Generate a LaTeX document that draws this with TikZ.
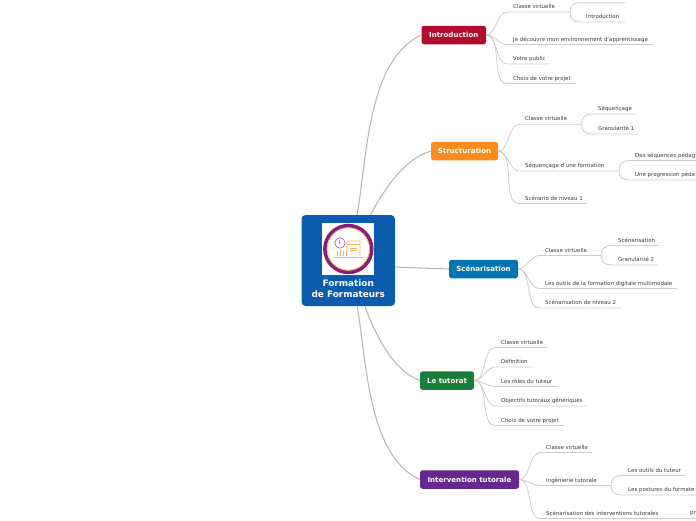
\documentclass[tikz,border=0pt]{standalone}
\usepackage{fontspec}
\setmainfont{DejaVu Sans}
\usetikzlibrary{positioning,calc}
\definecolor{rootblue}{RGB}{11,92,173}
\definecolor{introred}{RGB}{176,12,44}
\definecolor{structorange}{RGB}{249,140,30}
\definecolor{scenblue}{RGB}{0,117,180}
\definecolor{tutgreen}{RGB}{24,128,56}
\definecolor{intpurple}{RGB}{102,40,143}
\definecolor{ringpurple}{RGB}{135,30,120}
\definecolor{iconorange}{RGB}{245,175,100}
\begin{document}
\begin{tikzpicture}[x=1pt,y=-1pt,
  rootbox/.style={draw=none, fill=rootblue, rounded corners=4pt,
                  minimum width=93.5pt, minimum height=91pt, inner sep=0pt},
  rootlbl/.style={text=white, align=center, inner sep=0pt,
                  font=\fontsize{8.9}{11}\selectfont\bfseries},
  topic/.style={rounded corners=2.5pt, text=white, inner sep=0pt,
                minimum height=18.5pt,
                font=\fontsize{7.05}{8}\selectfont\bfseries},
  leaf/.style={anchor=west, inner sep=0pt, text=black!78,
               font=\fontsize{5.45}{6}\selectfont},
  mainarc/.style={draw=black!27, line width=1.1pt},
  leafarc/.style={draw=black!20, line width=0.8pt},
]
  \useasboundingbox (0,0) rectangle (696,520);
  \node[rootbox] (root) at (348.25,260.5) {};
  \node[topic, fill=introred, minimum width=64.5pt] (intro) at (453.75,35) {Introduction};
  \node[topic, fill=structorange, minimum width=67pt] (struct) at (464.5,151.2) {Structuration};
  \node[topic, fill=scenblue, minimum width=69pt] (scen) at (483.5,269) {Scénarisation};
  \node[topic, fill=tutgreen, minimum width=54pt] (tut) at (447,380.5) {Le tutorat};
  \node[topic, fill=intpurple, minimum width=99pt] (interv) at (469.5,479.5) {Intervention tutorale};
  % root picture
  \fill[white] (322,223) rectangle (374,275);
  \draw[ringpurple, line width=3.6pt] (348.3,249) circle (23.4pt);
  \draw[iconorange, line width=0.8pt] (348.3,249) circle (21.2pt);
  \draw[iconorange, line width=0.7pt, rounded corners=0.5pt]
    (347,256) -- (347,241) -- (360,241) -- (360,256);
  \draw[iconorange, line width=1pt, line cap=round] (334.5,257) -- (363,257);
  \draw[iconorange, line width=0.7pt] (347,244) -- (360,244);
  \draw[iconorange, line width=0.5pt] (350,248) -- (357,248) (350,250.5) -- (357,250.5);
  \draw[iconorange, line width=0.9pt] (337.5,256) -- (337.5,252) (340.5,256) -- (340.5,249.5)
    (343.5,256) -- (343.5,251) (346,256) -- (346,252);
  \draw[ringpurple!80, line width=0.6pt, fill=white] (340,243) circle (5.2pt);
  \node[font=\fontsize{4.5}{5}\selectfont\bfseries, text=ringpurple, inner sep=0pt] (info) at (340,243) {i};
  \node[rootlbl] (rootname) at (348.25,288.5) {Formation\\de Formateurs};
  % main branches
  \foreach \n/\a/\o/\i/\l in {intro/79/80/205/0.8, struct/64/62/195/0.8, scen/-8/-2/178/1,
                              tut/-70/-70/160/0.8, interv/-79/-80/155/0.8}{
    \draw[mainarc] (root.\a) to[out=\o, in=\i, looseness=\l] (\n.west);
  }
  % first level
  \foreach \p/\n/\x/\y/\u/\e/\t in {
    intro/ia/513/6.7/12/570/Classe virtuelle,
    intro/ib/513/39.7/44.5/654/Je découvre mon environnement d'apprentissage,
    intro/ic/513/58.7/64/550/Votre public,
    intro/id/513/78.7/83.5/576/Choix de votre projet,
    struct/sa/525/118.7/124.3/581.5/Classe virtuelle,
    struct/sb/525/165.7/171/619/Séquençage d'une formation,
    struct/sc/525/198.7/203.5/587/Scénario de niveau 1,
    scen/na/545/250.7/255.5/601/Classe virtuelle,
    scen/nb/545/283.7/288.5/677/Les outils de la formation digitale multimodale,
    scen/nc/545/302.7/308/621/Scénarisation de niveau 2,
    tut/ta/501/342.7/347.5/547.5/Classe virtuelle,
    tut/tb/501/361.7/367/532/Définition,
    tut/tc/501/381.7/386.5/558/Les rôles du tuteur,
    tut/td/501/400.7/406/587/Objectifs tutoraux génériques,
    tut/te/501/420.7/425.5/564/Choix de votre projet,
    interv/va/546/447.7/452.5/592/Classe virtuelle,
    interv/vb/546/480.7/485.5/611/Ingénierie tutorale,
    interv/vc/546/513.7/518.5/696/Scénarisation des interventions tutorales}{
    \node[leaf] (\n) at (\x,\y) {\t};
    \coordinate (\n-start) at (\x-6,\u);
    \coordinate (\n-end) at (\e,\u);
    \draw[leafarc] (\p.east) to[out=0, in=180, looseness=0.8] (\n-start) -- (\n-end);
  }
  % second level
  \foreach \p/\o/\n/\x/\y/\u/\e/\t in {
    ia/90/iaa/586/-3/2.7/625/{},
    ia/-90/iab/586/16.7/22/625/Introduction,
    sa/90/saa/598/108.7/114/636/Séquençage,
    sa/-90/sab/598/128.7/134/638/Granularité 1,
    sb/90/sba/635/155.7/160.5/696/Des séquences pédag,
    sb/-90/sbb/635/174.7/180/696/Une progression péda,
    na/90/naa/618/240.7/245.5/659/Scénarisation,
    na/-90/nab/618/259.7/265/658/Granularité 2,
    vb/90/vba/628/470.7/475.5/686/Les outils du tuteur,
    vb/-90/vbb/628/489.7/495/696/Les postures du formate}{
    \node[leaf] (\n) at (\x,\y) {\t};
    \coordinate (\n-start) at (\x-6,\u);
    \coordinate (\n-end) at (\e,\u);
    \draw[leafarc] (\p-end) to[out=\o, in=180, looseness=1.2] (\n-start) -- (\n-end);
  }
  \node[leaf] (vca) at (690,513.7) {pr};
\end{tikzpicture}
\end{document}
